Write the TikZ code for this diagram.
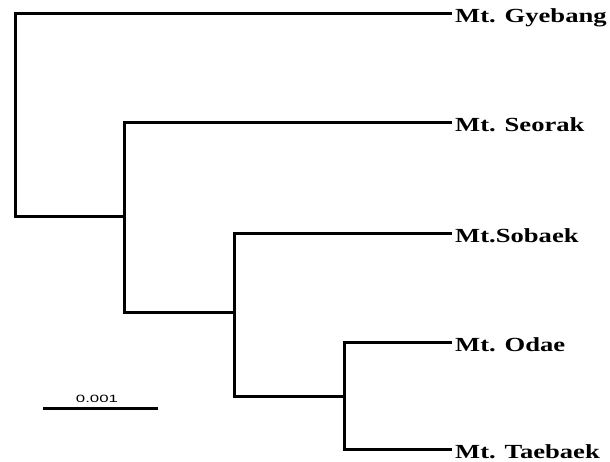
\documentclass[tikz,border=0pt]{standalone}
\usepackage{fontspec}
\setmainfont{Liberation Serif}
\newfontfamily\barfont{Liberation Sans}
\begin{document}
\begin{tikzpicture}[x=1pt,y=-1pt,
  branch/.style={line width=3pt,line join=miter},
  taxon/.style={anchor=base west,inner sep=0pt,font=\fontsize{20}{23}\selectfont\bfseries},
  barlabel/.style={anchor=base,inner sep=0pt,font=\fontsize{10.5}{12}\selectfont\barfont}]
\useasboundingbox (0,0) rectangle (610,461);
% leaf tips
\coordinate (gy) at (452,13);
\coordinate (se) at (452,122);
\coordinate (so) at (452,233);
\coordinate (od) at (452,342);
\coordinate (ta) at (452,449);
% internal nodes (x of the split, y of the incoming branch)
\coordinate (root) at (15,110);
\coordinate (n2) at (124,216);
\coordinate (n3) at (234,312);
\coordinate (n4) at (344,396);
% taxon labels
\node[taxon] (gyl) at (455,22) {\scalebox{1.33}[1]{Mt. Gyebang}};
\node[taxon] (sel) at (455,131) {\scalebox{1.33}[1]{Mt. Seorak}};
\node[taxon] (sol) at (455,242) {\scalebox{1.33}[1]{Mt.Sobaek}};
\node[taxon] (odl) at (455,351) {\scalebox{1.33}[1]{Mt. Odae}};
\node[taxon] (tal) at (455,458) {\scalebox{1.33}[1]{Mt. Taebaek}};
% branches
\draw[branch] (gy) -| (root) |- (n2);
\draw[branch] (se) -| (n2) |- (n3);
\draw[branch] (so) -| (n3) |- (n4);
\draw[branch] (od) -| (n4) |- (ta);
% scale bar
\coordinate (sb1) at (43,408);
\coordinate (sb2) at (158,408);
\draw[branch] (sb1) -- (sb2);
\node[barlabel] (sbl) at (97,402) {\scalebox{1.6}[1]{0.001}};
\end{tikzpicture}
\end{document}
